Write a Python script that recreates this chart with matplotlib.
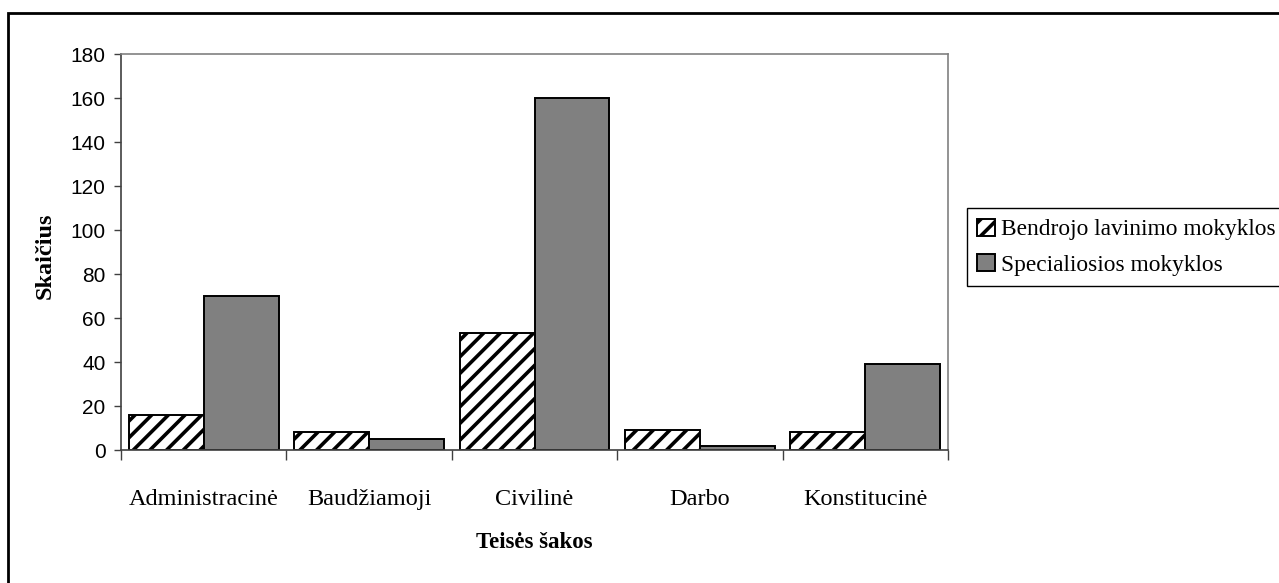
import matplotlib
matplotlib.use("Agg")
import matplotlib.pyplot as plt
import numpy as np
from matplotlib.patches import Rectangle

categories = ["Administracinė", "Baudžiamoji", "Civilinė", "Darbo", "Konstitucinė"]
bendrojo = [16, 8, 53, 9, 8]
specialiosios = [70, 5, 160, 2, 39]
series_labels = ["Bendrojo lavinimo mokyklos", "Specialiosios mokyklos"]
yticks = [0, 20, 40, 60, 80, 100, 120, 140, 160, 180]

plt.rcParams['hatch.linewidth'] = 2.6
plt.rcParams['hatch.color'] = 'black'

W, H = 1279, 583
fig = plt.figure(figsize=(W / 100, H / 100), dpi=100)
fig.patch.set_facecolor('white')

# outer chart border (top and left visible)
fig.patches.append(Rectangle((8 / W, -0.2), 1.5, (H - 13) / H + 0.2,
                             transform=fig.transFigure, fill=False,
                             edgecolor='black', linewidth=2.0))

left, right, top, bottom = 121, 948, 54, 450
ax = fig.add_axes([left / W, (H - bottom) / H, (right - left) / W, (bottom - top) / H])

x = np.arange(len(categories))
bw = 0.453
b1 = ax.bar(x - bw / 2, bendrojo, width=bw, facecolor='white', edgecolor='black',
            hatch='//', linewidth=1.4, label=series_labels[0])
b2 = ax.bar(x + bw / 2, specialiosios, width=bw, facecolor='#808080', edgecolor='black',
            linewidth=1.4, label=series_labels[1])

ax.set_xlim(-0.5, len(categories) - 0.5)
ax.set_ylim(0, 180)
ax.set_yticks(yticks)
ax.set_yticklabels([str(v) for v in yticks], fontfamily='Liberation Sans', fontsize=15)

ax.set_xticks(x)
ax.set_xticklabels(categories, fontfamily='Liberation Serif', fontsize=17.5)
ax.set_xticks(np.arange(len(categories) + 1) - 0.5, minor=True)
ax.tick_params(axis='x', which='major', length=0, pad=28)
ax.tick_params(axis='x', which='minor', length=7, width=1.0, color='#404040', direction='out')
ax.tick_params(axis='y', length=5, width=1.0, color='#404040', direction='out', pad=6)

for s in ['left', 'bottom']:
    ax.spines[s].set_color('#404040')
    ax.spines[s].set_linewidth(1.2)
for s in ['top', 'right']:
    ax.spines[s].set_color('#808080')
    ax.spines[s].set_linewidth(1.2)

ax.set_ylabel("Skaičius", fontfamily='Liberation Serif', fontweight='bold', fontsize=17.5,
              va='center')
ax.yaxis.set_label_coords((45 - left) / (right - left), 0.49)
ax.set_xlabel("Teisės šakos", fontfamily='Liberation Serif', fontweight='bold', fontsize=16.5,
              va='center')
ax.xaxis.set_label_coords(0.5, (bottom - 542) / (bottom - top))

leg = fig.legend(handles=[b1, b2], labels=series_labels, loc='upper left',
                 bbox_to_anchor=(967 / W, (H - 208) / H),
                 prop={'family': 'Liberation Serif', 'size': 16.8},
                 frameon=True, fancybox=False, edgecolor='black', framealpha=1,
                 handlelength=0.75, handleheight=0.75, handletextpad=0.25,
                 labelspacing=0.6, borderpad=0.45, borderaxespad=0)
leg.get_frame().set_linewidth(1.0)

fig.savefig("out.png", dpi=100)
